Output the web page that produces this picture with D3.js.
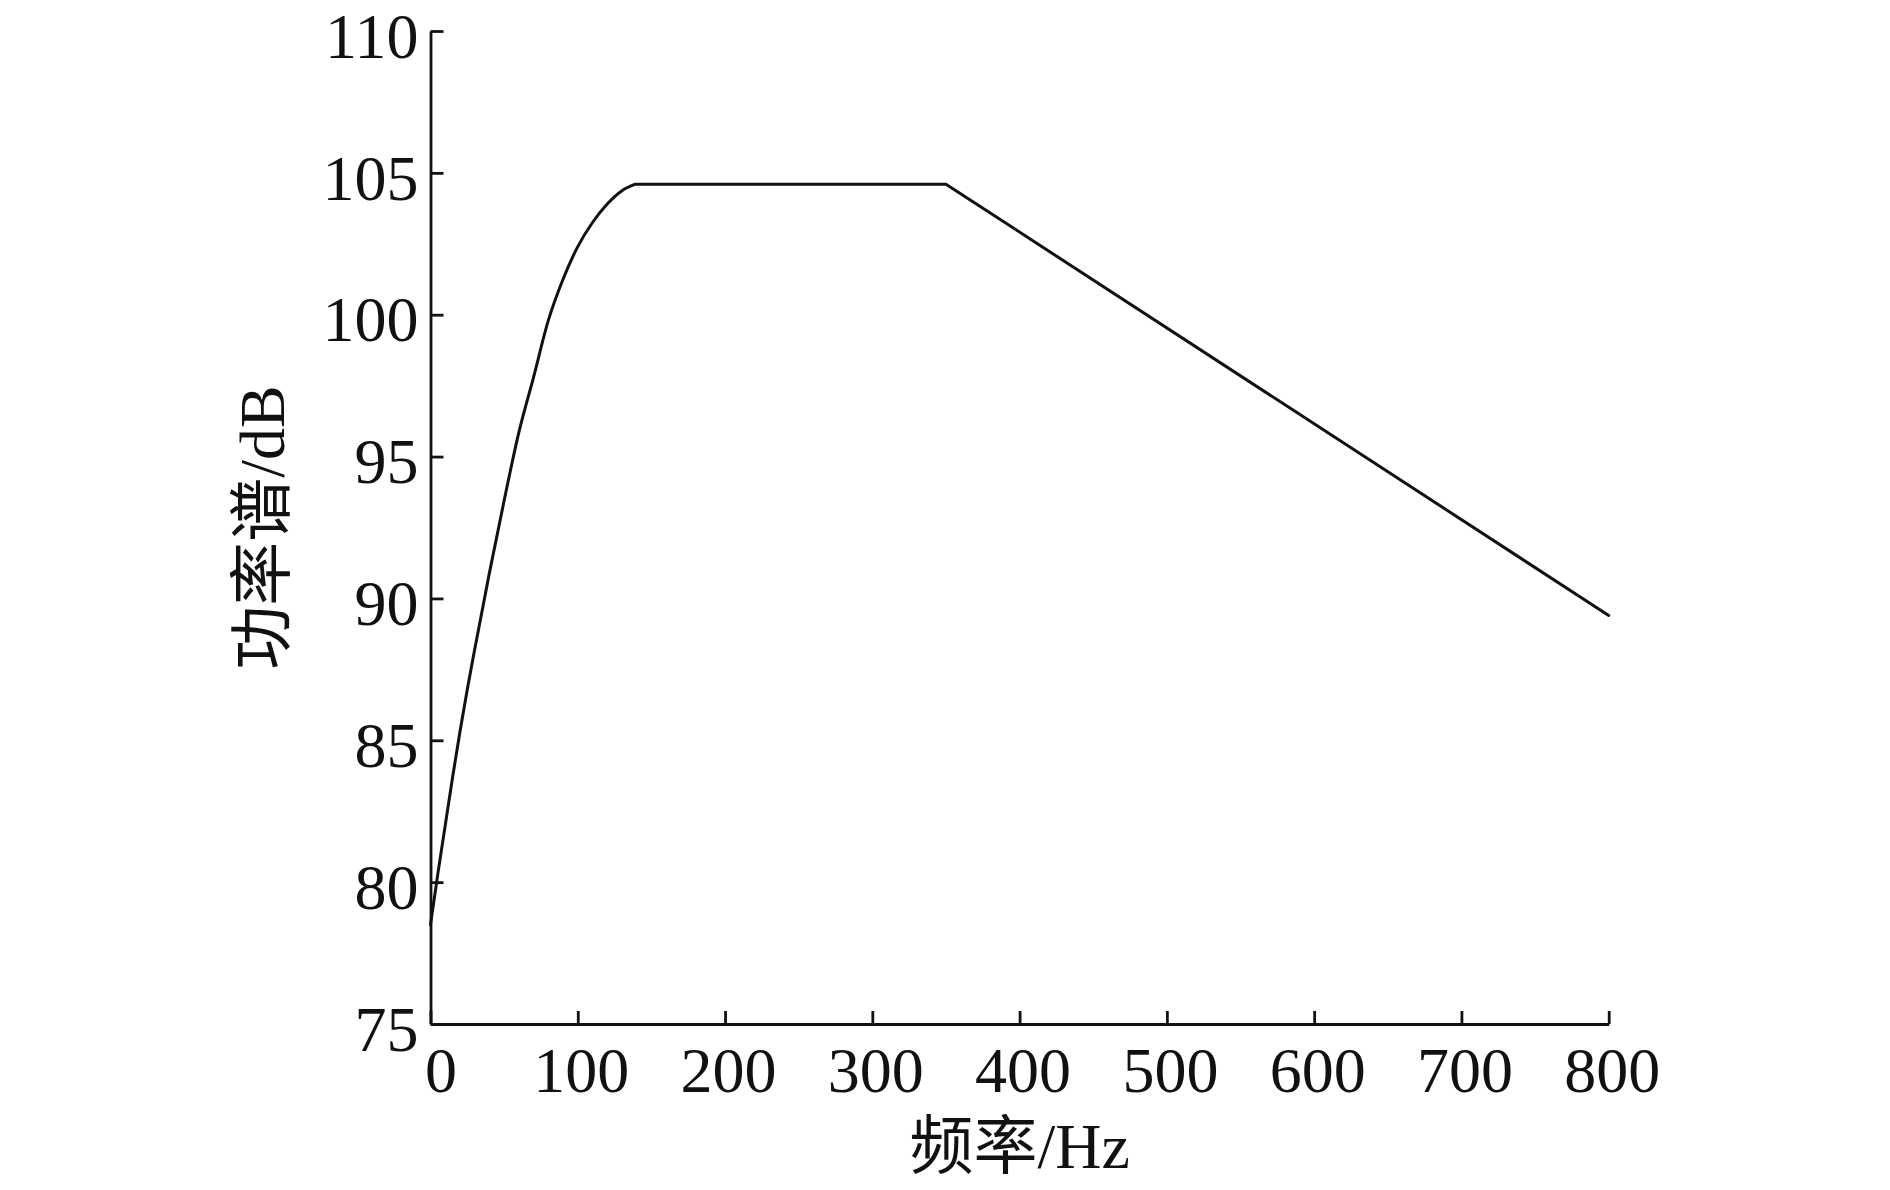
<!DOCTYPE html>
<html lang="zh">
  <head>
    <meta charset="UTF-8" />
    <title>功率谱</title>
    <script src="https://cdn.jsdelivr.net/npm/d3@7"></script>
    <style>
      body { margin: 0; background: #fff; }
    </style>
  </head>
  <body>
    <script>
    var freq = [0, 5, 10, 15, 20, 25, 30, 40, 50, 60, 70, 80, 90, 100, 110, 120, 130, 139, 350, 800];
    var power = [78.5, 80.3, 82.0, 83.7, 85.3, 86.8, 88.2, 90.9, 93.45, 95.85, 97.8, 99.8, 101.25, 102.4, 103.25, 103.9, 104.37, 104.6, 104.6, 89.4];
    var kneeFreq = 139; // end of the curved rise
    var xTicks = [0, 100, 200, 300, 400, 500, 600, 700, 800];
    var yTicks = [75, 80, 85, 90, 95, 100, 105, 110];
    var xTitle = "频率/Hz";
    var yTitle = "功率谱/dB";

    var w = 1890, h = 1190;
    var font = "'Liberation Serif', 'Times New Roman', 'Noto Sans CJK SC', serif";

    var svg = d3.select("body").append("svg")
      .attr("width", w).attr("height", h);

    var xScale = d3.scaleLinear().domain([0, 800]).range([430.5, 1608.7]);
    var yScale = d3.scaleLinear().domain([75, 110]).range([1024, 31]);

    var xAxis = d3.axisBottom(xScale)
      .tickValues(xTicks)
      .tickSizeInner(-13)
      .tickSizeOuter(0)
      .tickPadding(23)
      .tickFormat(d3.format("d"));
    var yAxis = d3.axisLeft(yScale)
      .tickValues(yTicks)
      .tickSizeInner(-13)
      .tickSizeOuter(0)
      .tickPadding(12)
      .tickFormat(d3.format("d"));

    var gx = svg.append("g")
      .attr("transform", "translate(0," + yScale(75) + ")")
      .call(xAxis);
    var gy = svg.append("g")
      .attr("transform", "translate(" + xScale(0) + ",0)")
      .call(yAxis);

    [gx, gy].forEach(function(g) {
      g.attr("font-family", font).attr("font-size", 64);
      g.select(".domain").attr("stroke", "#111").attr("stroke-width", 2.8);
      g.selectAll(".tick line").attr("stroke", "#111").attr("stroke-width", 2.8);
      g.selectAll(".tick text").attr("fill", "#111");
    });
    gy.selectAll(".tick text").attr("dy", "0.41em");
    // matlab nudges x labels a bit right
    gx.selectAll(".tick text").attr("dx", function(d) { return d === 0 ? 10 : 3; });

    var pts = d3.zip(freq, power);
    var rise = pts.filter(function(d) { return d[0] <= kneeFreq; });
    var tail = pts.filter(function(d) { return d[0] >= kneeFreq; });

    var smooth = d3.line()
      .x(function(d) { return xScale(d[0]); })
      .y(function(d) { return yScale(d[1]); })
      .curve(d3.curveMonotoneX);
    var straight = d3.line()
      .x(function(d) { return xScale(d[0]); })
      .y(function(d) { return yScale(d[1]); });

    svg.append("path")
      .attr("fill", "none")
      .attr("stroke", "#111")
      .attr("stroke-width", 3)
      .attr("stroke-linejoin", "round")
      .attr("stroke-linecap", "round")
      .attr("d", smooth(rise) + straight(tail).replace(/^M/, "L"));

    svg.append("text")
      .text(xTitle)
      .attr("x", (xScale(0) + xScale(800)) / 2)
      .attr("y", 1168)
      .attr("text-anchor", "middle")
      .attr("font-family", font)
      .attr("font-size", 64)
      .attr("fill", "#111");

    svg.append("text")
      .text(yTitle)
      .attr("text-anchor", "middle")
      .attr("font-family", font)
      .attr("font-size", 64)
      .attr("fill", "#111")
      .attr("transform", "translate(284," + (yScale(75) + yScale(110)) / 2 + ")rotate(-90)");
    </script>
  </body>
</html>
